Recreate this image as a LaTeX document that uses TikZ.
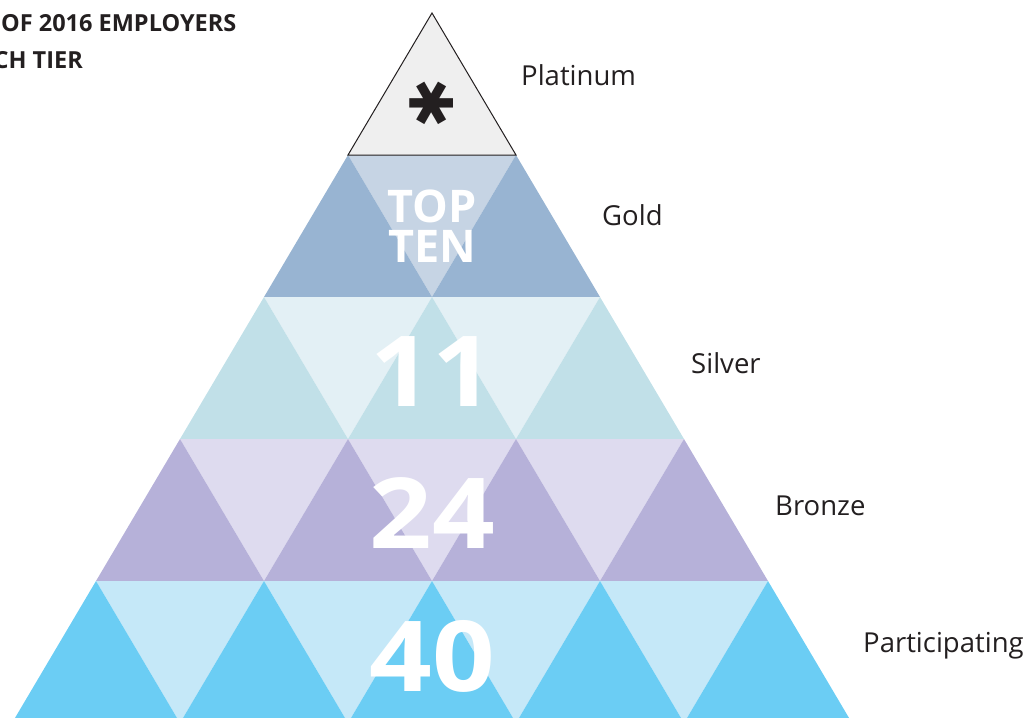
\documentclass[tikz,border=0pt]{standalone}
\usepackage{fontspec}
\setmainfont{Open Sans}
\newfontfamily\symfont{DejaVu Sans}
\definecolor{txt}{HTML}{231F20}
\definecolor{platfill}{HTML}{EFEFEF}
\definecolor{goldup}{HTML}{98B4D2}
\definecolor{golddn}{HTML}{C6D4E4}
\definecolor{silverup}{HTML}{C1E0E8}
\definecolor{silverdn}{HTML}{E3F0F5}
\definecolor{bronzeup}{HTML}{B6B1D9}
\definecolor{bronzedn}{HTML}{DEDBEF}
\definecolor{partup}{HTML}{6BCDF4}
\definecolor{partdn}{HTML}{C5E8F8}
\begin{document}
\begin{tikzpicture}[x=1pt,y=-1pt,
  tierlabel/.style={anchor=base west,inner sep=0,text=txt,font=\fontsize{27.5}{30}\selectfont},
  bignum/.style={anchor=base,inner sep=0,text=white,font=\bfseries\fontsize{98}{98}\selectfont},
  topten/.style={anchor=center,inner sep=0,text=white,align=center,font=\bfseries\fontsize{45}{40}\selectfont},
  header/.style={inner sep=0,text=txt,font=\bfseries\fontsize{23.5}{24}\selectfont}]
\useasboundingbox (0,0) rectangle (1030,717);
\clip (0,0) rectangle (1030,717);
\foreach \k/\up/\dn in {2/goldup/golddn,3/silverup/silverdn,4/bronzeup/bronzedn,5/partup/partdn} {
  \pgfmathsetmacro\yt{13+142*(\k-1)}
  \pgfmathsetmacro\yb{13+142*\k}
  \pgfmathtruncatemacro\km{\k-1}
  \pgfmathtruncatemacro\kmm{\k-2}
  \foreach \j in {0,...,\kmm} {
    \pgfmathsetmacro\ax{432-84*(\k-1)+168*\j}
    \fill[\dn] (\ax,\yt) -- (\ax+168,\yt) -- (\ax+84,\yb) -- cycle;
  }
  \foreach \j in {0,...,\km} {
    \pgfmathsetmacro\ax{432-84*(\k-1)+168*\j}
    \fill[\up] (\ax,\yt) -- (\ax+84,\yb) -- (\ax-84,\yb) -- cycle;
  }
}
\draw[txt,line width=1pt,fill=platfill,line join=miter] (432,13) -- (516,155) -- (348,155) -- cycle;
\node[inner sep=0,text=txt,rotate=90,font=\symfont\fontsize{60}{60}\selectfont] (ast) at (432,103) {✱};
\node[topten] (topten) at (432,226) {TOP\\TEN};
\node[bignum] (n11) at (432,406) {\scalebox{1.1}[1]{11}};
\node[bignum] (n24) at (432,548) {\scalebox{1.12}[1]{24}};
\node[bignum] (n40) at (432,691) {\scalebox{1.12}[1]{40}};
\node[tierlabel] (plat) at (521,85) {Platinum};
\node[tierlabel] (gold) at (602,225) {Gold};
\node[tierlabel] (silver) at (691,373) {Silver};
\node[tierlabel] (bronze) at (775,515) {Bronze};
\node[tierlabel] (part) at (863,652) {Participating};
\node[header,anchor=base west] (h1) at (1,32) {OF 2016 EMPLOYERS};
\node[header,anchor=base east] (h2) at (83,69) {CH TIER};
\end{tikzpicture}
\end{document}
